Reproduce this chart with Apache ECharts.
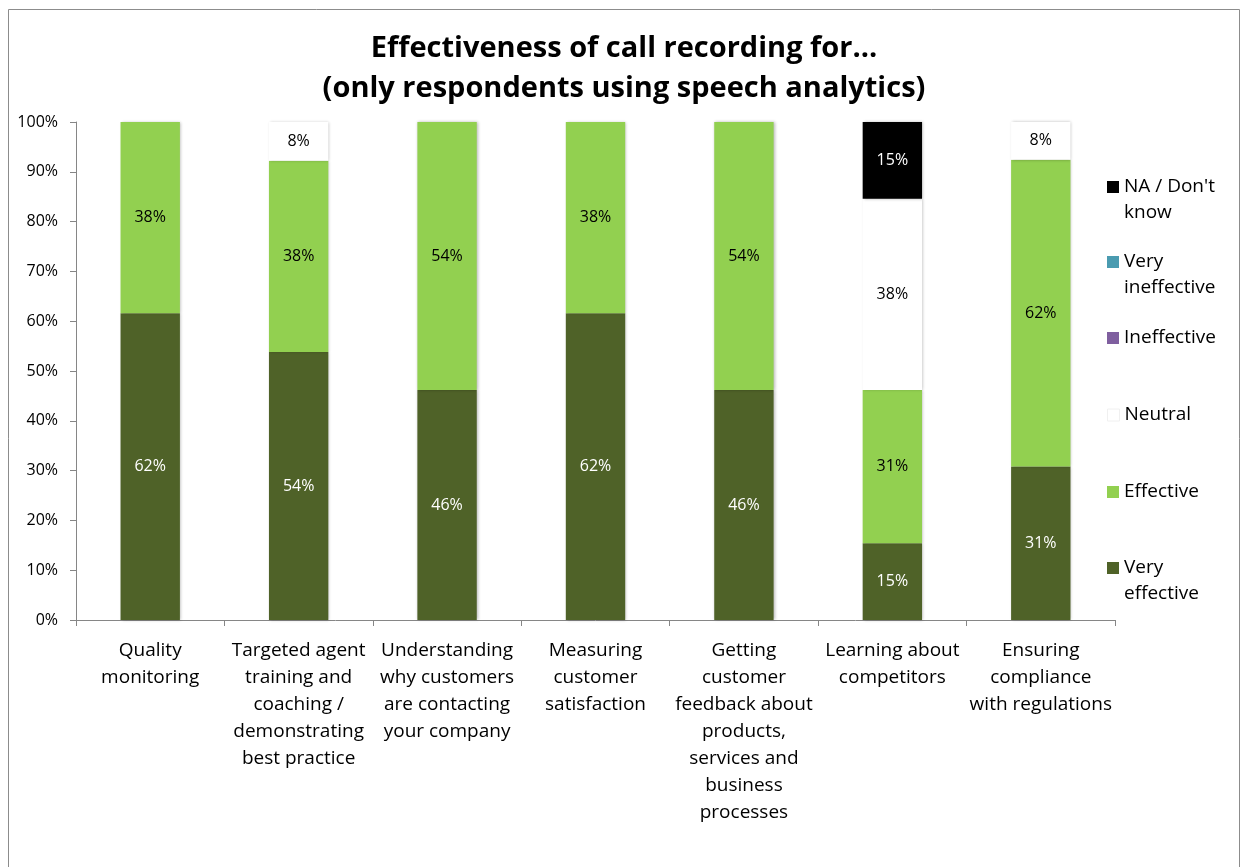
<!DOCTYPE html>
<html>
<head>
<meta charset="utf-8">
<script src="https://cdn.jsdelivr.net/npm/echarts@6/dist/echarts.min.js"></script>
<style>
  html, body { margin: 0; padding: 0; background: #fff; }
  #chart { width: 1248px; height: 867px; }
</style>
</head>
<body>
<div id="chart"></div>
<script>
// categories (line breaks as in the original axis labels)
var categories = [
  "Quality\nmonitoring",
  "Targeted agent\ntraining and\ncoaching /\ndemonstrating\nbest practice",
  "Understanding\nwhy customers\nare contacting\nyour company",
  "Measuring\ncustomer\nsatisfaction",
  "Getting\ncustomer\nfeedback about\nproducts,\nservices and\nbusiness\nprocesses",
  "Learning about\ncompetitors",
  "Ensuring\ncompliance\nwith regulations"
];
// shares of respondents, %
var veryEffective   = [61.6, 53.8, 46.2, 61.6, 46.2, 15.4, 30.8];
var effective       = [38.4, 38.4, 53.8, 38.4, 53.8, 30.8, 61.6];
var neutral         = [0, 7.8, 0, 0, 0, 38.4, 7.6];
var ineffective     = [0, 0, 0, 0, 0, 0, 0];
var veryIneffective = [0, 0, 0, 0, 0, 0, 0];
var naDontKnow      = [0, 0, 0, 0, 0, 15.4, 0];
var yTicks = ["0%", "10%", "20%", "30%", "40%", "50%", "60%", "70%", "80%", "90%", "100%"];

var FONT = "Open Sans";
var myChart = echarts.init(document.getElementById("chart"));

// legend icon for two-line entries: square sits next to the first line
var icon2 = "path://M0,0L0.01,0L0.01,0.01ZM0,7L12,7L12,19L0,19ZM0,52L0.01,52L0.01,51.99Z";

function pct(p) {
  return p.value > 0 ? Math.round(p.value) + "%" : "";
}

function makeSeries(name, data, color, labelColor) {
  return {
    name: name,
    type: "bar",
    stack: "total",
    barWidth: "40%",
    data: data,
    itemStyle: {
      color: color,
      shadowColor: "rgba(0,0,0,0.28)",
      shadowBlur: 3,
      shadowOffsetX: 1,
      shadowOffsetY: 0
    },
    label: {
      show: true,
      position: "inside",
      formatter: pct,
      color: labelColor,
      fontFamily: FONT,
      fontSize: 16
    }
  };
}

function legendItem(name, top, twoLines, borderColor) {
  return {
    data: [name],
    orient: "vertical",
    left: 1102,
    top: top,
    itemWidth: 12,
    itemHeight: twoLines ? 52 : 12,
    icon: twoLines ? icon2 : "rect",
    itemStyle: { shadowBlur: 0, borderColor: borderColor || "transparent", borderWidth: borderColor ? 1 : 0 },
    formatter: function (n) {
      return n.replace("Don't know", "Don't\nknow").replace("Very ineffective", "Very\nineffective").replace("Very effective", "Very\neffective");
    },
    textStyle: { fontFamily: FONT, fontSize: 19, color: "#000", lineHeight: 26 },
    selectedMode: false
  };
}

var option = {
  animation: false,
  backgroundColor: "#fff",
  title: {
    text: "Effectiveness of call recording for...\n(only respondents using speech analytics)",
    left: "center",
    top: 24,
    textStyle: { fontFamily: FONT, fontSize: 29, fontWeight: "bold", color: "#000", lineHeight: 40 }
  },
  graphic: [{
    type: "rect",
    shape: { x: 8.5, y: 9.5, width: 1231, height: 870 },
    style: { fill: "none", stroke: "#8c8c8c", lineWidth: 1 },
    silent: true
  }],
  legend: [
    legendItem("NA / Don't know", 169, true),
    legendItem("Very ineffective", 244, true),
    legendItem("Ineffective", 320, false),
    legendItem("Neutral", 397, false, "#f0f0f0"),
    legendItem("Effective", 474, false),
    legendItem("Very effective", 550, true)
  ],
  grid: { left: 76, right: 133, top: 122, bottom: 247 },
  xAxis: {
    type: "category",
    data: categories,
    axisLine: { lineStyle: { color: "#868686" } },
    axisTick: { show: true, length: 6, lineStyle: { color: "#868686" } },
    axisLabel: {
      interval: 0,
      margin: 17,
      fontFamily: FONT,
      fontSize: 19,
      lineHeight: 27,
      color: "#000",
      align: "center"
    }
  },
  yAxis: {
    type: "value",
    min: 0,
    max: 100,
    interval: 10,
    splitLine: { show: false },
    axisLine: { show: true, lineStyle: { color: "#868686" } },
    axisTick: { show: true, length: 6, lineStyle: { color: "#868686" } },
    axisLabel: {
      margin: 18,
      fontFamily: FONT,
      fontSize: 16,
      color: "#000",
      formatter: function (v) { return yTicks[Math.round(v / 10)]; }
    }
  },
  series: [
    makeSeries("Very effective", veryEffective, "#4f6228", "#fff"),
    makeSeries("Effective", effective, "#92d050", "#000"),
    makeSeries("Neutral", neutral, "#ffffff", "#000"),
    makeSeries("Ineffective", ineffective, "#7f5f9f", "#fff"),
    makeSeries("Very ineffective", veryIneffective, "#4a9bb0", "#fff"),
    makeSeries("NA / Don't know", naDontKnow, "#000000", "#fff")
  ]
};

myChart.setOption(option);
</script>
</body>
</html>
